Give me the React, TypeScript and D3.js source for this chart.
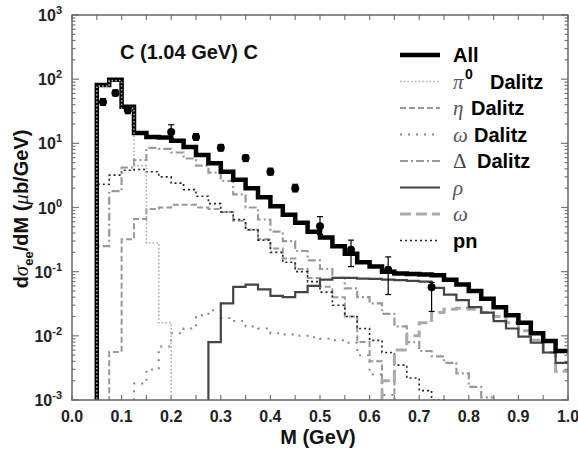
import React from 'react';
import * as d3 from 'd3';

const BIN = 0.025;

const allStart = 0.05;
const allValues = [81, 98, 37, 14.5, 12.6, 12.3, 11.0, 8.8, 6.6, 4.9, 3.6, 2.7, 2.0, 1.45, 1.05, 0.77, 0.58, 0.42, 0.34, 0.25, 0.19, 0.14, 0.12, 0.1, 0.094, 0.092, 0.09, 0.088, 0.075, 0.063, 0.05, 0.038, 0.028, 0.021, 0.016, 0.011, 0.0083, 0.0058];

const pi0Start = 0.05;
const pi0Values = [78, 95, 35, 4.5, 0.28, 0.016];

const etaDalitzStart = 0.075;
const etaDalitzValues = [0.0056, 0.32, 0.66, 0.95, 1.0, 1.1, 1.1, 1.0, 0.95, 0.85, 0.62, 0.45, 0.32, 0.23, 0.16, 0.11, 0.08, 0.058, 0.04, 0.02, 0.008, 0.004, 0.002];

const omegaDalitzStart = 0.125;
const omegaDalitzValues = [0.0018, 0.003, 0.0068, 0.011, 0.013, 0.021, 0.025, 0.019, 0.017, 0.014, 0.013, 0.011, 0.0105, 0.01, 0.0095, 0.009, 0.0085, 0.0078, 0.005, 0.0025, 0.0012];

const deltaDalitzStart = 0.05;
const deltaDalitzValues = [0.25, 1.8, 4.2, 5.5, 8.5, 8.2, 7.2, 5.8, 4.5, 3.5, 2.6, 1.6, 1.0, 0.65, 0.42, 0.3, 0.21, 0.15, 0.11, 0.08, 0.055, 0.04, 0.032, 0.022, 0.014, 0.008, 0.0058, 0.0048, 0.0038, 0.0026, 0.0016, 0.0011];

const rhoStart = 0.275;
const rhoValues = [0.008, 0.032, 0.058, 0.063, 0.053, 0.042, 0.04, 0.048, 0.06, 0.075, 0.08, 0.08, 0.078, 0.077, 0.075, 0.074, 0.072, 0.07, 0.056, 0.044, 0.036, 0.028, 0.023, 0.017, 0.013, 0.0097, 0.0078, 0.0055, 0.0038];

const omegaStart = 0.625;
const omegaValues = [0.002, 0.006, 0.01, 0.016, 0.023, 0.026, 0.027, 0.026, 0.023, 0.02, 0.016, 0.012, 0.0085, 0.0055, 0.0028];

const pnStart = 0.05;
const pnValues = [2.3, 3.2, 3.8, 3.9, 3.6, 3.0, 2.4, 1.9, 1.5, 1.15, 0.85, 0.65, 0.45, 0.31, 0.2, 0.14, 0.1, 0.07, 0.048, 0.03, 0.02, 0.013, 0.0085, 0.0055, 0.0035, 0.0022, 0.0014, 0.001];

const dataM = [0.0625, 0.0875, 0.1125, 0.2, 0.25, 0.3, 0.35, 0.4, 0.45, 0.5, 0.5625, 0.6375, 0.725];
const dataY = [44, 61, 33, 15, 12.6, 8.5, 5.9, 3.6, 2.0, 0.51, 0.22, 0.107, 0.057];
const dataLo = [39, 55, 29, 12, 11.2, 7.6, 5.2, 3.2, 1.75, 0.38, 0.12, 0.044, 0.024];
const dataHi = [50, 68, 37, 19.5, 14.2, 9.6, 6.6, 4.1, 2.3, 0.72, 0.31, 0.17, 0.068];

const xTickValues = [0, 0.1, 0.2, 0.3, 0.4, 0.5, 0.6, 0.7, 0.8, 0.9, 1.0];
const xTickLabels = ['0.0', '0.1', '0.2', '0.3', '0.4', '0.5', '0.6', '0.7', '0.8', '0.9', '1.0'];
const yTickExponents = [-3, -2, -1, 0, 1, 2, 3];

const W = 578, H = 450;
const L = 72, R = 568, T = 15, B = 400;

const x = d3.scaleLinear().domain([0, 1]).range([L, R]);
const y = d3.scaleLog().domain([1e-3, 1e3]).range([B, T]);

function stepPath(start: number, vals: number[]): string {
  const floor = 1e-5;
  const pts: [number, number][] = [[start, floor]];
  vals.forEach((v, i) => pts.push([start + i * BIN, v]));
  const end = start + vals.length * BIN;
  pts.push([end, vals[vals.length - 1]]);
  if (end < 0.999) pts.push([end, floor]);
  return d3.line<[number, number]>().x(d => x(d[0])).y(d => y(d[1])).curve(d3.curveStepAfter)(pts) || '';
}

type Style = { stroke: string; width: number; dash?: string };
const styles: Record<string, Style> = {
  all: { stroke: '#000', width: 4.5 },
  pi0: { stroke: '#aaa', width: 1.6, dash: '1.5,2.2' },
  eta: { stroke: '#999', width: 2, dash: '6,3' },
  omegaD: { stroke: '#888', width: 2, dash: '2,6' },
  delta: { stroke: '#999', width: 2.2, dash: '8,3,2,3' },
  rho: { stroke: '#444', width: 2.2 },
  omega: { stroke: '#aaa', width: 3, dash: '11,5' },
  pn: { stroke: '#222', width: 1.6, dash: '2,3' },
};

const sansBold = { fontFamily: 'Liberation Sans, Arial, sans-serif', fontWeight: 700 as const };
const serifIt = { fontFamily: 'Liberation Serif, Times New Roman, serif', fontStyle: 'italic' as const, fontWeight: 400 as const };

export default function App() {
  const minorY: number[] = [];
  for (let e = -3; e < 3; e++) for (let k = 2; k <= 9; k++) minorY.push(k * Math.pow(10, e));
  const xTicksAll = d3.range(0, 1.0001, 0.05);

  const series: [string, number, number[]][] = [
    ['omegaD', omegaDalitzStart, omegaDalitzValues],
    ['eta', etaDalitzStart, etaDalitzValues],
    ['pn', pnStart, pnValues],
    ['delta', deltaDalitzStart, deltaDalitzValues],
    ['omega', omegaStart, omegaValues],
    ['rho', rhoStart, rhoValues],
    ['all', allStart, allValues],
    ['pi0', pi0Start, pi0Values],
  ];

  const legendKeys = ['all', 'pi0', 'eta', 'omegaD', 'delta', 'rho', 'omega', 'pn'];
  const legY0 = 55, legDy = 26.5;
  const lx1 = 400, lx2 = 440, tx = 453;

  const legendText = (k: string, yy: number) => {
    const base = yy + 7;
    switch (k) {
      case 'all': return <text x={tx} y={base} fontSize={20} {...sansBold}>All</text>;
      case 'pi0': return (
        <g>
          <text x={tx} y={base} fontSize={21} fill="#555" {...serifIt}>π</text>
          <text x={tx + 12} y={base - 10} fontSize={14} {...sansBold}>0</text>
          <text x={tx + 37} y={base} fontSize={20} {...sansBold}>Dalitz</text>
        </g>);
      case 'eta': return (
        <g>
          <text x={tx} y={base} fontSize={21} fill="#555" {...serifIt}>η</text>
          <text x={tx + 18} y={base} fontSize={20} {...sansBold}>Dalitz</text>
        </g>);
      case 'omegaD': return (
        <g>
          <text x={tx} y={base} fontSize={21} fill="#555" {...serifIt}>ω</text>
          <text x={tx + 21} y={base} fontSize={20} {...sansBold}>Dalitz</text>
        </g>);
      case 'delta': return (
        <g>
          <text x={tx} y={base} fontSize={21} fill="#444" fontFamily="Liberation Serif, serif">Δ</text>
          <text x={tx + 24} y={base} fontSize={20} {...sansBold}>Dalitz</text>
        </g>);
      case 'rho': return <text x={tx} y={base} fontSize={21} fill="#555" {...serifIt}>ρ</text>;
      case 'omega': return <text x={tx} y={base} fontSize={21} fill="#555" {...serifIt}>ω</text>;
      case 'pn': return <text x={tx} y={base} fontSize={20} {...sansBold}>pn</text>;
    }
    return null;
  };

  return (
    <svg width={W} height={H} style={{ position: 'absolute', left: 0, top: 0, background: '#fff' }}>
      <defs>
        <clipPath id="plotclip"><rect x={L} y={T} width={R - L} height={B - T} /></clipPath>
      </defs>
      <rect x={0} y={0} width={W} height={H} fill="#fff" />

      {/* ticks */}
      <g stroke="#777" strokeWidth={1.2}>
        {xTicksAll.map((t, i) => (
          <g key={'xt' + i}>
            <line x1={x(t)} x2={x(t)} y1={B} y2={B - 5} />
            <line x1={x(t)} x2={x(t)} y1={T} y2={T + 5} />
          </g>
        ))}
        {yTickExponents.map(e => (
          <g key={'ym' + e}>
            <line x1={L} x2={L + 7} y1={y(Math.pow(10, e))} y2={y(Math.pow(10, e))} />
            <line x1={R} x2={R - 7} y1={y(Math.pow(10, e))} y2={y(Math.pow(10, e))} />
          </g>
        ))}
        {minorY.map((v, i) => (
          <g key={'yn' + i}>
            <line x1={L} x2={L + 3.5} y1={y(v)} y2={y(v)} />
            <line x1={R} x2={R - 3.5} y1={y(v)} y2={y(v)} />
          </g>
        ))}
      </g>

      {/* histograms */}
      <g clipPath="url(#plotclip)" fill="none">
        {series.map(([k, s, v]) => {
          const st = styles[k];
          return <path key={k} d={stepPath(s, v)} stroke={st.stroke} strokeWidth={st.width} strokeDasharray={st.dash} strokeLinejoin="miter" />;
        })}
      </g>

      {/* data points */}
      <g stroke="#000" strokeWidth={1.2} fill="#000">
        {dataM.map((m, i) => (
          <g key={'d' + i}>
            <line x1={x(m)} x2={x(m)} y1={y(dataLo[i])} y2={y(dataHi[i])} />
            <line x1={x(m) - 3} x2={x(m) + 3} y1={y(dataLo[i])} y2={y(dataLo[i])} />
            <line x1={x(m) - 3} x2={x(m) + 3} y1={y(dataHi[i])} y2={y(dataHi[i])} />
            <circle cx={x(m)} cy={y(dataY[i])} r={4} stroke="none" />
          </g>
        ))}
      </g>

      {/* frame */}
      <rect x={L} y={T} width={R - L} height={B - T} fill="none" stroke="#666" strokeWidth={1.5} />

      {/* x tick labels */}
      {xTickValues.map((t, i) => (
        <text key={'xl' + i} x={x(t)} y={422} fontSize={16} textAnchor="middle" {...sansBold} fill="#222">{xTickLabels[i]}</text>
      ))}
      {/* y tick labels */}
      {yTickExponents.map(e => (
        <text key={'yl' + e} x={L - 10} y={y(Math.pow(10, e)) + 6} fontSize={16} textAnchor="end" {...sansBold} fill="#222">
          10<tspan fontSize={11} dy={-7}>{e}</tspan>
        </text>
      ))}

      {/* axis labels */}
      <text x={318} y={444} fontSize={20} textAnchor="middle" {...sansBold} fill="#111">M (GeV)</text>
      <text transform="translate(28,209) rotate(-90)" fontSize={20} textAnchor="middle" {...sansBold} fill="#111">
        d<tspan {...serifIt} fontSize={21}>σ</tspan><tspan fontSize={13} dy={5}>ee</tspan><tspan dy={-5}>/dM (</tspan><tspan {...serifIt} fontSize={21}>μ</tspan><tspan>b/GeV)</tspan>
      </text>

      {/* title */}
      <text x={120} y={59} fontSize={20} {...sansBold} fill="#111">C (1.04 GeV) C</text>

      {/* legend */}
      {legendKeys.map((k, i) => {
        const yy = legY0 + i * legDy;
        const st = styles[k];
        return (
          <g key={'lg' + k}>
            <line x1={lx1} x2={lx2} y1={yy} y2={yy} stroke={st.stroke} strokeWidth={st.width} strokeDasharray={st.dash} />
            {legendText(k, yy)}
          </g>
        );
      })}
    </svg>
  );
}
